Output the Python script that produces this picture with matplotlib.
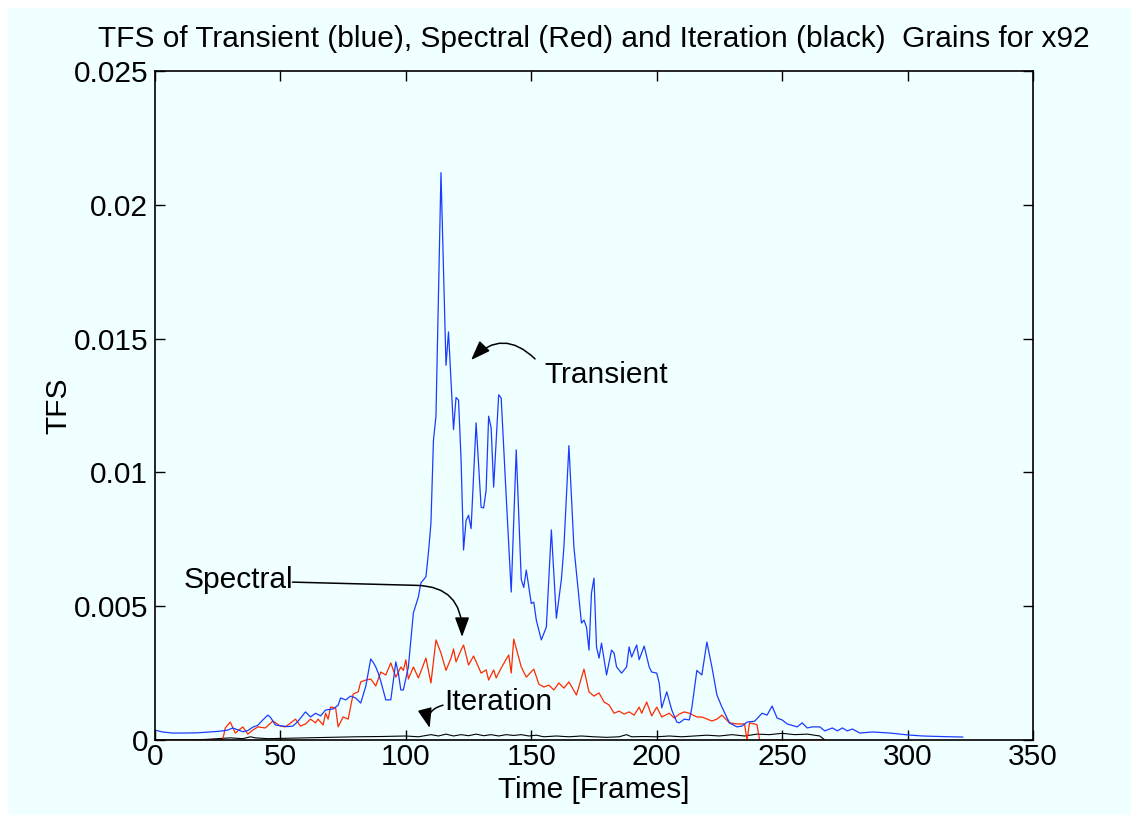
import matplotlib
matplotlib.use("Agg")
import matplotlib.pyplot as plt
from matplotlib.patches import Rectangle
import numpy as np

plt.rcParams['font.family'] = ['Liberation Sans', 'DejaVu Sans']

# ---- data (values in units of 1e-3) ----
transient_frames = [0, 3, 7, 12, 17, 22, 26, 29, 31, 33, 35, 37, 39, 41, 43, 45, 46, 48, 51, 53, 55, 57,
                    60, 62, 64, 66, 68, 71, 73, 74, 76, 78, 80, 82, 84, 86, 87, 88, 89, 90, 92, 94, 95,
                    96, 97, 98, 99, 101, 103, 105, 106, 108, 109, 110, 111, 112, 114, 116, 117, 119, 120,
                    121, 122, 123, 124, 125, 126, 128, 130, 131, 132, 133, 134, 135, 137, 138, 140, 142,
                    144, 146, 147, 148, 150, 151, 152, 154, 156, 158, 160, 162, 163, 165, 167, 170, 171,
                    172, 173, 174, 175, 176, 177, 178, 180, 182, 183, 184, 186, 188, 189, 190, 192, 193,
                    195, 197, 198, 200, 201, 202, 204, 206, 207, 208, 209, 211, 213, 214, 216, 218, 220,
                    222, 224, 226, 229, 232, 234, 236, 239, 242, 244, 246, 248, 250, 252, 256, 258, 260,
                    262, 265, 267, 270, 272, 274, 276, 278, 281, 286, 293, 300, 306, 313, 322]
transient_vals = [0.37, 0.30, 0.26, 0.26, 0.27, 0.30, 0.33, 0.37, 0.45, 0.38, 0.31, 0.35, 0.48, 0.55, 0.75,
                  0.93, 0.85, 0.56, 0.52, 0.50, 0.52, 0.70, 1.05, 0.86, 1.00, 0.90, 1.12, 1.16, 1.30, 1.57,
                  1.50, 1.64, 1.57, 1.38, 2.00, 3.03, 2.90, 2.73, 2.50, 2.20, 1.50, 1.50, 2.20, 2.92, 2.50,
                  1.87, 1.87, 2.73, 4.75, 5.35, 5.87, 6.10, 7.00, 8.10, 11.2, 12.1, 21.2, 14.0, 15.25, 11.6,
                  12.8, 12.7, 10.5, 7.1, 8.2, 8.4, 7.9, 11.85, 8.7, 8.67, 9.34, 12.1, 11.66, 9.45, 12.9,
                  12.78, 9.1, 5.53, 10.84, 6.0, 5.7, 6.35, 5.1, 5.15, 4.48, 3.74, 4.22, 7.85, 4.55, 6.0,
                  7.2, 11.0, 7.2, 4.37, 4.48, 4.22, 3.36, 5.5, 6.05, 3.48, 3.06, 3.62, 2.43, 3.36, 3.25,
                  2.73, 2.5, 2.73, 3.48, 3.1, 3.55, 3.0, 3.51, 2.73, 2.54, 2.5, 2.13, 1.2, 1.8, 1.12, 0.9,
                  0.67, 0.64, 0.78, 0.75, 1.2, 2.6, 2.43, 3.66, 2.73, 1.68, 1.23, 0.64, 0.49, 0.52, 0.67,
                  0.7, 1.0, 0.93, 1.27, 0.82, 0.75, 0.6, 0.49, 0.64, 0.45, 0.49, 0.49, 0.34, 0.45, 0.34,
                  0.45, 0.34, 0.41, 0.26, 0.3, 0.26, 0.19, 0.15, 0.13, 0.11]

spectral_frames = [0, 27, 28, 30, 32, 35, 37, 39, 41, 44, 47, 50, 52, 53, 56, 58, 60, 62, 64, 65, 67, 68,
                   69, 70, 72, 73, 75, 77, 79, 81, 82, 84, 86, 88, 90, 92, 94, 96, 98, 99, 100, 101, 103,
                   105, 108, 110, 112, 114, 116, 118, 119, 120, 122, 123, 125, 127, 130, 132, 133, 135,
                   136, 138, 141, 142, 143, 146, 148, 151, 153, 155, 157, 159, 161, 163, 165, 168, 171,
                   173, 175, 177, 179, 181, 183, 185, 187, 189, 191, 193, 194, 196, 198, 200, 202, 205,
                   207, 209, 211, 213, 216, 218, 222, 224, 226, 229, 232, 235, 236, 237, 239, 240, 241, 267]
spectral_vals = [0.0, 0.0, 0.45, 0.67, 0.26, 0.49, 0.22, 0.37, 0.49, 0.45, 0.71, 0.52, 0.49, 0.56, 0.78,
                 0.52, 0.6, 0.78, 0.64, 0.78, 0.56, 1.0, 0.78, 1.23, 1.2, 0.49, 0.86, 0.78, 1.72, 1.8,
                 2.17, 2.24, 2.28, 2.02, 2.54, 2.43, 2.88, 2.35, 2.73, 2.6, 3.0, 2.28, 2.73, 2.32, 3.06,
                 2.13, 3.74, 3.25, 2.6, 3.06, 3.4, 2.92, 3.36, 3.55, 2.8, 3.14, 2.5, 2.62, 2.24, 2.62,
                 2.32, 2.69, 3.18, 2.5, 3.77, 2.73, 2.35, 2.65, 2.09, 1.98, 2.05, 1.87, 2.13, 1.94, 2.17,
                 1.68, 2.65, 1.8, 1.64, 1.76, 1.42, 1.31, 1.0, 1.08, 0.97, 1.05, 0.93, 1.23, 1.0, 1.42,
                 0.9, 1.23, 0.86, 1.0, 0.82, 0.97, 1.05, 1.0, 0.86, 0.86, 0.71, 0.78, 0.93, 0.64, 0.6,
                 0.6, 0.0, 0.64, 0.6, 0.56, 0.0, 0.0]

iteration_frames = [0, 10, 20, 25, 30, 35, 38, 40, 45, 50, 60, 70, 80, 90, 100, 105, 110, 113, 116, 119,
                    122, 125, 128, 131, 134, 137, 140, 143, 146, 149, 152, 155, 160, 165, 170, 175, 180,
                    185, 188, 190, 195, 200, 205, 210, 215, 220, 225, 230, 235, 240, 245, 250, 255, 260,
                    265, 267]
iteration_vals = [0.0, 0.0, 0.02, 0.05, 0.08, 0.05, 0.12, 0.08, 0.05, 0.06, 0.08, 0.1, 0.12, 0.13, 0.15,
                  0.12, 0.2, 0.15, 0.22, 0.15, 0.2, 0.16, 0.22, 0.16, 0.2, 0.15, 0.2, 0.17, 0.2, 0.15,
                  0.18, 0.12, 0.15, 0.12, 0.15, 0.12, 0.1, 0.12, 0.2, 0.12, 0.13, 0.12, 0.15, 0.12, 0.15,
                  0.18, 0.15, 0.2, 0.15, 0.22, 0.2, 0.25, 0.2, 0.22, 0.15, 0.0]

xticks = [0, 50, 100, 150, 200, 250, 300, 350]
yticks = [0, 0.005, 0.01, 0.015, 0.02, 0.025]
yticklabels = ['0', '0.005', '0.01', '0.015', '0.02', '0.025']

BG = '#f0ffff'
FS = 21.5
W, H = 1139, 823
fig = plt.figure(figsize=(W / 100, H / 100), dpi=100, facecolor='white')
fig.patches.append(Rectangle((8 / W, 8 / H), 1 - 16 / W, 1 - 16 / H, transform=fig.transFigure,
                             facecolor=BG, edgecolor='none', zorder=-10))

ax = fig.add_axes([155 / W, 1 - 740 / H, 878 / W, 669 / H])
ax.set_facecolor(BG)

sc = 1e-3
ax.plot(iteration_frames, np.array(iteration_vals) * sc, color='black', lw=0.8)
ax.plot(spectral_frames, np.array(spectral_vals) * sc, color='#ff2a00', lw=0.9)
ax.plot(transient_frames, np.array(transient_vals) * sc, color='#1a3cff', lw=0.9)

ax.set_xlim(0, 350)
ax.set_ylim(0, 0.025)
ax.set_xticks(xticks)
ax.set_yticks(yticks)
ax.set_yticklabels(yticklabels)
ax.tick_params(direction='in', top=True, right=True, length=7, width=1, labelsize=FS, colors='black')
ax.tick_params(axis='x', pad=2)
ax.tick_params(axis='y', pad=5)
for s in ax.spines.values():
    s.set_linewidth(1.2)
    s.set_color('black')

ax.set_xlabel('Time [Frames]', fontsize=FS, labelpad=4)
ax.set_ylabel('TFS', fontsize=FS, labelpad=1)
ax.set_title('TFS of Transient (blue), Spectral (Red) and Iteration (black)  Grains for x92',
             fontsize=FS, pad=17)

arrow_kw = dict(arrowstyle='-|>,head_length=0.6,head_width=0.22', color='black', lw=1.1,
                shrinkA=0, shrinkB=0, mutation_scale=20)

# Transient annotation
ax.text(155.4, 13.64e-3, 'Transient', fontsize=FS, ha='left', va='center')
ax.annotate('', xy=(126, 14.2e-3), xytext=(151.5, 14.24e-3),
            arrowprops=dict(connectionstyle='arc3,rad=0.5', **arrow_kw))

# Spectral annotation
ax.text(11.2, 5.98e-3, 'Spectral', fontsize=FS, ha='left', va='center')
ax.annotate('', xy=(122.4, 3.85e-3), xytext=(54.8, 5.9e-3),
            arrowprops=dict(connectionstyle='angle,angleA=-1.5,angleB=90,rad=45', **arrow_kw))

# Iteration annotation
ax.text(115.2, 1.42e-3, 'Iteration', fontsize=FS, ha='left', va='center')
ax.annotate('', xy=(109.5, 0.45e-3), xytext=(114.8, 1.3e-3),
            arrowprops=dict(connectionstyle='arc3,rad=0.5', **arrow_kw))

fig.savefig('out.png', dpi=100, facecolor=fig.get_facecolor())
